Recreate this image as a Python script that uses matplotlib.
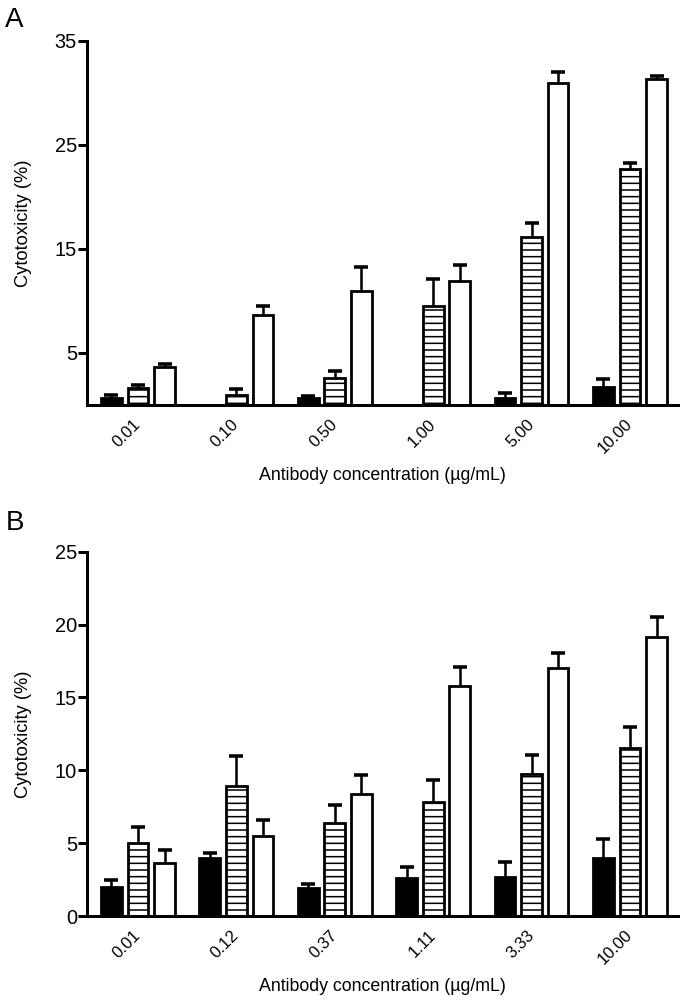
import numpy as np
import matplotlib
matplotlib.use('Agg')
from matplotlib import pyplot as plt

plt.rcParams['font.family'] = ['Liberation Sans', 'DejaVu Sans']
plt.rcParams['hatch.linewidth'] = 1.4
plt.rcParams['hatch.color'] = 'black'

# panel A data
conc_a = ['0.01', '0.10', '0.50', '1.00', '5.00', '10.00']
a_black = [0.7, 0.0, 0.7, 0.0, 0.7, 1.7]
a_black_err = [0.3, 0.0, 0.2, 0.0, 0.5, 0.8]
a_hatch = [1.6, 1.0, 2.6, 9.5, 16.2, 22.7]
a_hatch_err = [0.3, 0.5, 0.7, 2.6, 1.3, 0.6]
a_white = [3.7, 8.65, 11.0, 11.9, 31.0, 31.3]
a_white_err = [0.2, 0.85, 2.3, 1.6, 1.0, 0.3]

# panel B data
conc_b = ['0.01', '0.12', '0.37', '1.11', '3.33', '10.00']
b_black = [2.0, 4.0, 1.9, 2.6, 2.7, 4.0]
b_black_err = [0.45, 0.35, 0.3, 0.75, 1.0, 1.25]
b_hatch = [5.0, 8.9, 6.35, 7.85, 9.75, 11.55]
b_hatch_err = [1.1, 2.05, 1.25, 1.45, 1.3, 1.45]
b_white = [3.65, 5.5, 8.35, 15.8, 17.0, 19.15]
b_white_err = [0.9, 1.1, 1.35, 1.3, 1.05, 1.35]

W = 0.21   # bar width
OFF = 0.27  # offset between bars in a group


def panel(ax, labels, series, ymax, yticks):
    x = np.arange(len(labels))
    styles = [dict(color='black', hatch=None),
              dict(color='white', hatch='--'),
              dict(color='white', hatch=None)]
    for k, (vals, errs) in enumerate(series):
        pos = x + (k - 1) * OFF
        vals = np.array(vals)
        errs = np.array(errs)
        ax.bar(pos, vals, width=W, color=styles[k]['color'], edgecolor='black',
               linewidth=2.5, hatch=styles[k]['hatch'], zorder=2)
        m = vals > 0
        eb = ax.errorbar(pos[m], vals[m], yerr=[np.zeros(m.sum()), errs[m]], fmt='none',
                         ecolor='black', elinewidth=2.3, capsize=6.3, capthick=3.2, zorder=1)
        eb.lines[1][0].set_visible(False)  # only the upper cap
    ax.set_xlim(-0.518, len(labels) - 1 + 0.488)
    ax.set_ylim(0, ymax)
    ax.set_yticks(yticks)
    ax.set_xticks(x)
    ax.set_xticklabels(labels, rotation=45, ha='right', va='center',
                       rotation_mode='anchor', fontsize=15)
    ax.tick_params(axis='x', length=0, pad=15)
    ax.tick_params(axis='y', length=8, width=2.7, labelsize=18, pad=1)
    for s in ['top', 'right']:
        ax.spines[s].set_visible(False)
    for s in ['left', 'bottom']:
        ax.spines[s].set_linewidth(2.7)
    ax.set_ylabel('Cytotoxicity (%)', fontsize=16.5)
    ax.yaxis.set_label_coords(-0.093, 0.5)
    ax.set_xlabel('Antibody concentration (\u00b5g/mL)', fontsize=16, labelpad=10)


fig = plt.figure(figsize=(685 / 80, 1001 / 80), dpi=80)
ax1 = fig.add_axes([87 / 685, 1 - 405 / 1001, 591 / 685, 364 / 1001])
ax2 = fig.add_axes([87 / 685, 1 - 916 / 1001, 591 / 685, 364.3 / 1001])

panel(ax1, conc_a, [(a_black, a_black_err), (a_hatch, a_hatch_err), (a_white, a_white_err)],
      35, [5, 15, 25, 35])
panel(ax2, conc_b, [(b_black, b_black_err), (b_hatch, b_hatch_err), (b_white, b_white_err)],
      25, [0, 5, 10, 15, 20, 25])

fig.text(5 / 685, 1 - 27 / 1001, 'A', fontsize=25, ha='left', va='baseline')
fig.text(6 / 685, 1 - 530 / 1001, 'B', fontsize=25, ha='left', va='baseline')

plt.savefig('out.png', dpi=80)
